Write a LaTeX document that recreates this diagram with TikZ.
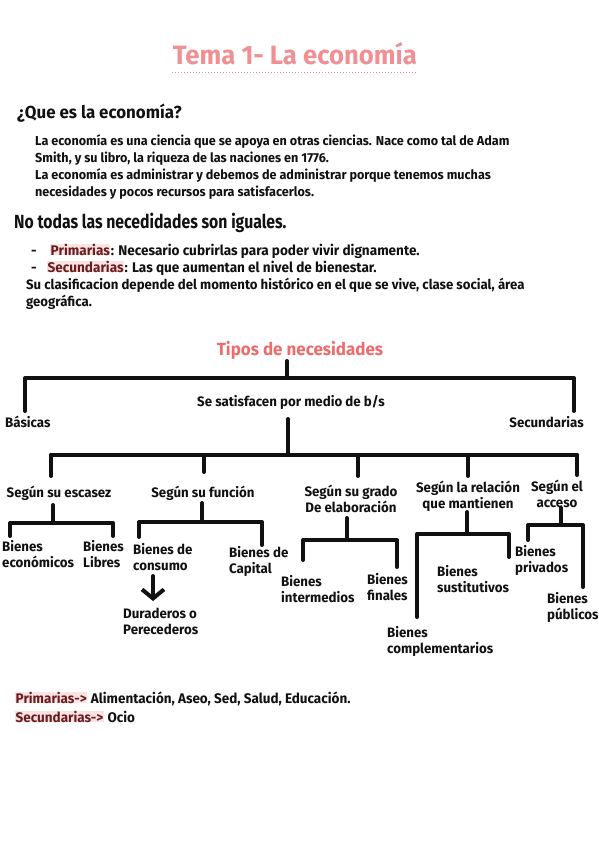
\documentclass[tikz,border=0pt]{standalone}
\usepackage{fontspec}
\setmainfont{Fira Sans}[FakeStretch=0.97]
\usetikzlibrary{arrows.meta}
\definecolor{titlepink}{HTML}{EF9094}
\definecolor{headpink}{HTML}{EC6C6E}
\definecolor{maroonx}{HTML}{6A1C1E}
\definecolor{hlpink}{HTML}{FBE3E3}
\definecolor{ink}{HTML}{111111}
\begin{document}
\begin{tikzpicture}[x=1pt,y=-1pt,
  body/.style={anchor=base west,inner sep=0pt,text=ink,font=\bfseries\fontsize{13}{17}\selectfont},
  bodyb/.style={body,font=\bfseries\fontsize{14}{17}\selectfont},
  lab/.style={inner sep=0pt,text=ink,align=left,font=\bfseries\fontsize{13.7}{16}\selectfont},
  labc/.style={lab,align=center},
  br/.style={line width=4pt,line cap=round,line join=round,draw=ink},
  hiword/.style={bodyb,text=maroonx,fill=hlpink,inner xsep=0.5pt,inner ysep=0pt}]
\path[use as bounding box,fill=white] (0,0) rectangle (599,848);

% title
\node[anchor=base,inner sep=0pt,text=titlepink,font=\bfseries\fontsize{26.5}{30}\selectfont] (title) at (295,65) {Tema 1- La economía};
\coordinate (ulA) at (172,73);
\coordinate (ulB) at (418,73);
\draw[titlepink,dotted,line width=1pt] (ulA) -- (ulB);

\node[anchor=base west,inner sep=0pt,text=ink,font=\bfseries\fontsize{17.4}{22}\selectfont] (q) at (17,119) {¿Que es la economía?};
\node[body] (p1) at (35,145) {La economía es una ciencia que se apoya en otras ciencias. Nace como tal de Adam};
\node[body] (p2) at (35,162) {Smith, y su libro, la riqueza de las naciones en 1776.};
\node[body] (p3) at (35,179) {La economía es administrar y debemos de administrar porque tenemos muchas};
\node[body] (p4) at (35,196) {necesidades y pocos recursos para satisfacerlos.};

\node[anchor=base west,inner sep=0pt,text=ink,font=\bfseries\fontsize{19}{23}\selectfont\addfontfeature{FakeStretch=0.83}] (nt) at (14,228) {No todas las necedidades son iguales.};

\node[bodyb] (d1) at (31,255) {-};
\node[hiword] (w1) at (50,255) {Primarias};
\node[bodyb] (r1) at (w1.base east) {: Necesario cubrirlas para poder vivir dignamente.};
\node[bodyb] (d2) at (31,272) {-};
\node[hiword] (w2) at (47,272) {Secundarias};
\node[bodyb] (r2) at (w2.base east) {: Las que aumentan el nivel de bienestar.};
\node[body,font=\bfseries\fontsize{13.6}{17}\selectfont] (s1) at (26,289) {Su clasificacion depende del momento histórico en el que se vive, clase social, área};
\node[body,font=\bfseries\fontsize{13.6}{17}\selectfont] (s2) at (26,306) {geográfica.};

% tree
\node[anchor=base,inner sep=0pt,text=headpink,font=\bfseries\fontsize{17.5}{20}\selectfont] (tipos) at (300,355) {Tipos de necesidades};
\coordinate (t0) at (287,361);
\coordinate (t1) at (287,378);
\coordinate (tL) at (25,378);
\coordinate (tR) at (574,378);
\coordinate (tLd) at (25,411);
\coordinate (tRd) at (574,411);
\draw[br] (t0) -- (t1);
\draw[br] (tLd) -- (tL) -- (tR) -- (tRd);

\node[lab,anchor=base west] (bas) at (5,427) {Básicas};
\node[lab,anchor=base east] (sec) at (584,427) {Secundarias};
\node[lab,anchor=base] (sat) at (291,406) {Se satisfacen por medio de b/s};

\coordinate (s0) at (288,419);
\coordinate (s1c) at (288,455);
\draw[br] (s0) -- (s1c);
\coordinate (bL) at (51,455);
\coordinate (bR) at (577,455);
\draw[br] (bL) -- (bR);
\coordinate (e0) at (51,476);
\coordinate (e1) at (204,455); \coordinate (e1d) at (204,472);
\coordinate (e2) at (358,455); \coordinate (e2d) at (358,476);
\coordinate (e3) at (468,455); \coordinate (e3d) at (468,476);
\coordinate (e4d) at (577,475);
\draw[br] (bL) -- (e0);
\draw[br] (e1) -- (e1d);
\draw[br] (e2) -- (e2d);
\draw[br] (e3) -- (e3d);
\draw[br] (bR) -- (e4d);

\node[labc] (esc) at (59,493) {Según su escasez};
\node[labc] (fun) at (203,493) {Según su función};
\node[labc] (gra) at (351,499) {Según su grado\\De elaboración};
\node[labc] (rel) at (468,496) {Según la relación\\que mantienen};
\node[labc] (acc) at (557,494) {Según el\\acceso};

% escasez
\coordinate (a0) at (53,505); \coordinate (a1) at (53,523);
\coordinate (aL) at (10,523); \coordinate (aR) at (113,523);
\coordinate (aLd) at (10,536); \coordinate (aRd) at (113,536);
\draw[br] (a0) -- (a1);
\draw[br] (aLd) -- (aL) -- (aR) -- (aRd);
\node[lab,anchor=west] (eco) at (2,554) {Bienes\\económicos};
\node[lab,anchor=west] (lib) at (83,554) {Bienes\\Libres};

% funcion
\coordinate (f0) at (202,503); \coordinate (f1) at (202,522);
\coordinate (fL) at (139,522); \coordinate (fR) at (262,522);
\coordinate (fLd) at (139,537); \coordinate (fRd) at (262,545);
\draw[br] (f0) -- (f1);
\draw[br] (fLd) -- (fL) -- (fR) -- (fRd);
\node[lab,anchor=west] (cons) at (133,557) {Bienes de\\consumo};
\node[lab,anchor=west] (cap) at (229,561) {Bienes de\\Capital};
\coordinate (ar0) at (153,576);
\coordinate (ar1) at (153,601);
\draw[br,-{Straight Barb[length=9pt,width=22pt]}] (ar0) -- (ar1);
\node[lab,anchor=west] (dur) at (123,621) {Duraderos o\\Perecederos};

% grado
\coordinate (g0) at (347,518); \coordinate (g1) at (347,540);
\coordinate (gL) at (303,540); \coordinate (gR) at (397,540);
\coordinate (gLd) at (303,560); \coordinate (gRd) at (397,567);
\draw[br] (g0) -- (g1);
\draw[br] (gLd) -- (gL) -- (gR) -- (gRd);
\node[lab,anchor=west] (int) at (281,589) {Bienes\\intermedios};
\node[lab,anchor=west] (fin) at (367,587) {Bienes\\finales};

% relacion
\coordinate (r0) at (467,512); \coordinate (r1) at (467,534);
\coordinate (rL) at (417,534); \coordinate (rR) at (509,534);
\coordinate (rLd) at (417,617); \coordinate (rRd) at (509,557);
\draw[br] (r0) -- (r1);
\draw[br] (rLd) -- (rL) -- (rR) -- (rRd);
\node[lab,anchor=west] (sus) at (437,579) {Bienes\\sustitutivos};
\node[lab,anchor=west] (com) at (387,641) {Bienes\\complementarios};

% acceso
\coordinate (c0) at (561,508); \coordinate (c1) at (561,525);
\coordinate (cL) at (528,525); \coordinate (cR) at (583,525);
\coordinate (cLd) at (528,540); \coordinate (cRd) at (583,587);
\draw[br] (c0) -- (c1);
\draw[br] (cLd) -- (cL) -- (cR) -- (cRd);
\node[lab,anchor=west] (pri) at (515,560) {Bienes\\privados};
\node[lab,anchor=west] (pub) at (547,607) {Bienes\\públicos};

% bottom
\node[hiword,font=\bfseries\fontsize{13.9}{17}\selectfont] (bp) at (15,703) {Primarias->};
\node[body,font=\bfseries\fontsize{13.9}{17}\selectfont] (bpr) at (bp.base east) {\ Alimentación, Aseo, Sed, Salud, Educación.};
\node[hiword,font=\bfseries\fontsize{13.9}{17}\selectfont] (bs) at (15,722) {Secundarias->};
\node[body,font=\bfseries\fontsize{13.9}{17}\selectfont] (bsr) at (bs.base east) {\ Ocio};
\end{tikzpicture}
\end{document}
